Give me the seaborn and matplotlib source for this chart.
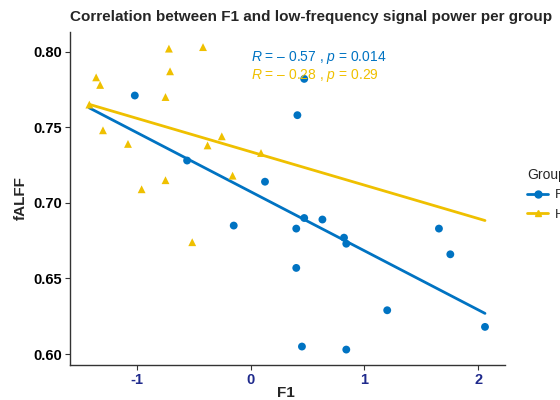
import numpy as np
import pandas as pd
import matplotlib
matplotlib.use("Agg")
import matplotlib.pyplot as plt
from matplotlib.lines import Line2D
import seaborn as sns

# ---- data ----
fep_f1 = [-1.02, -0.56, 0.125, 0.41, 0.47, -0.15, 0.47, 0.63, 0.40, 0.82,
          0.84, 0.40, 1.655, 1.755, 1.20, 2.06, 0.45, 0.84]
fep_falff = [0.771, 0.728, 0.714, 0.758, 0.782, 0.685, 0.690, 0.689, 0.683, 0.677,
             0.673, 0.657, 0.683, 0.666, 0.629, 0.618, 0.605, 0.603]
hc_f1 = [-1.36, -1.325, -1.42, -1.30, -1.08, -0.72, -0.71, -0.75, -0.75, -0.96,
         -0.42, -0.255, -0.38, 0.09, -0.16, -0.515]
hc_falff = [0.783, 0.778, 0.765, 0.748, 0.739, 0.802, 0.787, 0.770, 0.715, 0.709,
            0.803, 0.744, 0.738, 0.733, 0.718, 0.674]
groups = ["FEP", "HC"]
stat_labels = ["$\\it{R}$ = \u2013 0.57 , $\\it{p}$ = 0.014",
               "$\\it{R}$ = \u2013 0.28 , $\\it{p}$ = 0.29"]
yticks = [0.60, 0.65, 0.70, 0.75, 0.80]
xticks = [-1, 0, 1, 2]

df = pd.DataFrame({
    "F1": fep_f1 + hc_f1,
    "fALFF": fep_falff + hc_falff,
    "Group": [groups[0]] * len(fep_f1) + [groups[1]] * len(hc_f1),
})

sns.set_style("white")
plt.rcParams["font.family"] = ["Liberation Sans", "DejaVu Sans"]
plt.rcParams["mathtext.fontset"] = "custom"
plt.rcParams["mathtext.it"] = "Liberation Sans:italic"
plt.rcParams["mathtext.rm"] = "Liberation Sans"

palette = {"FEP": "#0073C2", "HC": "#EFC000"}
markers = {"FEP": "o", "HC": "^"}

fig = plt.figure(figsize=(5.6, 4.0), dpi=100)
ax = fig.add_axes([0.125, 0.0875, 0.777, 0.8325])

sns.scatterplot(data=df, x="F1", y="fALFF", hue="Group", style="Group",
                palette=palette, markers=markers, s=32, linewidth=0,
                legend=False, ax=ax, zorder=3)

# regression lines across the full x range (ggplot fullrange=TRUE)
xs = np.array([df["F1"].min(), df["F1"].max()])
for g in groups:
    sub = df[df["Group"] == g]
    slope, icpt = np.polyfit(sub["F1"], sub["fALFF"], 1)
    sns.lineplot(x=xs, y=slope * xs + icpt, color=palette[g], linewidth=2,
                 ax=ax, zorder=2)

# correlation labels
for i, g in enumerate(groups):
    ax.text(0.0, 0.796 - i * 0.0115, stat_labels[i], color=palette[g],
            fontsize=10, va="center", ha="left")

ax.set_xlim(-1.59, 2.237)
ax.set_ylim(0.5928, 0.813)
ax.set_xticks(xticks)
ax.set_yticks(yticks)
ax.set_xticklabels([f"{t:g}" for t in xticks], fontweight="bold",
                   color="#1F2A8C", fontsize=10.5)
ax.set_yticklabels([f"{t:.2f}" for t in yticks], fontweight="bold",
                   color="black", fontsize=10.5)
ax.tick_params(axis="both", length=3.5, width=0.8, color="#333333", pad=2,
               bottom=True, left=True)
ax.set_xlabel("F1", fontweight="bold", fontsize=11, labelpad=3)
ax.set_ylabel("fALFF", fontweight="bold", fontsize=11, labelpad=4)
ax.xaxis.set_label_coords(0.496, -0.062)

sns.despine(ax=ax)
for side in ["left", "bottom"]:
    ax.spines[side].set_color("#333333")
    ax.spines[side].set_linewidth(1.0)

ax.set_title("Correlation between F1 and low-frequency signal power per group",
             fontweight="bold", fontsize=11, loc="left", x=-0.0, pad=8)

handles = [Line2D([0], [0], color=palette[g], marker=markers[g], markersize=5,
                  linewidth=2) for g in groups]
leg = fig.legend(handles, groups, title="Group", loc="upper left",
                 bbox_to_anchor=(0.92, 0.61), frameon=False, fontsize=9.5,
                 title_fontsize=10, handlelength=1.6, labelspacing=0.55,
                 handletextpad=0.5, alignment="left")

fig.savefig("out.png", dpi=100)
